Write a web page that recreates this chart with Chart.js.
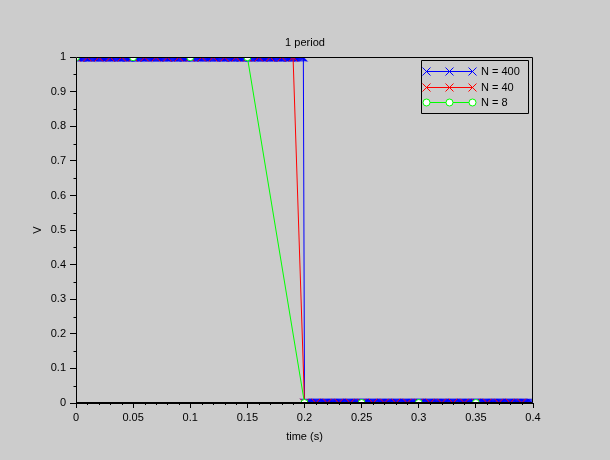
<!DOCTYPE html>
<html>
<head>
<meta charset="utf-8">
<script src="https://cdn.jsdelivr.net/npm/chart.js@4.4.1/dist/chart.umd.min.js"></script>
<style>
html,body{margin:0;padding:0;background:#cccccc;}
canvas{display:block;}
</style>
</head>
<body>
<canvas id="c" width="610" height="460"></canvas>
<script>
const chartTitle = '1 period';
const xAxisTitle = 'time (s)';
const yAxisTitle = 'V';
const seriesLabels = ['N = 400', 'N = 40', 'N = 8'];

const xTickValues = [0, 0.05, 0.1, 0.15, 0.2, 0.25, 0.3, 0.35, 0.4];
const xTickLabels = ['0', '0.05', '0.1', '0.15', '0.2', '0.25', '0.3', '0.35', '0.4'];
const yTickValues = [0, 0.1, 0.2, 0.3, 0.4, 0.5, 0.6, 0.7, 0.8, 0.9, 1];
const yTickLabels = ['0', '0.1', '0.2', '0.3', '0.4', '0.5', '0.6', '0.7', '0.8', '0.9', '1'];

const n400Time = [
0.000,0.001,0.002,0.003,0.004,0.005,0.006,0.007,0.008,0.009,0.010,0.011,0.012,0.013,0.014,0.015,0.016,0.017,0.018,0.019,
0.020,0.021,0.022,0.023,0.024,0.025,0.026,0.027,0.028,0.029,0.030,0.031,0.032,0.033,0.034,0.035,0.036,0.037,0.038,0.039,
0.040,0.041,0.042,0.043,0.044,0.045,0.046,0.047,0.048,0.049,0.050,0.051,0.052,0.053,0.054,0.055,0.056,0.057,0.058,0.059,
0.060,0.061,0.062,0.063,0.064,0.065,0.066,0.067,0.068,0.069,0.070,0.071,0.072,0.073,0.074,0.075,0.076,0.077,0.078,0.079,
0.080,0.081,0.082,0.083,0.084,0.085,0.086,0.087,0.088,0.089,0.090,0.091,0.092,0.093,0.094,0.095,0.096,0.097,0.098,0.099,
0.100,0.101,0.102,0.103,0.104,0.105,0.106,0.107,0.108,0.109,0.110,0.111,0.112,0.113,0.114,0.115,0.116,0.117,0.118,0.119,
0.120,0.121,0.122,0.123,0.124,0.125,0.126,0.127,0.128,0.129,0.130,0.131,0.132,0.133,0.134,0.135,0.136,0.137,0.138,0.139,
0.140,0.141,0.142,0.143,0.144,0.145,0.146,0.147,0.148,0.149,0.150,0.151,0.152,0.153,0.154,0.155,0.156,0.157,0.158,0.159,
0.160,0.161,0.162,0.163,0.164,0.165,0.166,0.167,0.168,0.169,0.170,0.171,0.172,0.173,0.174,0.175,0.176,0.177,0.178,0.179,
0.180,0.181,0.182,0.183,0.184,0.185,0.186,0.187,0.188,0.189,0.190,0.191,0.192,0.193,0.194,0.195,0.196,0.197,0.198,0.199,
0.200,0.201,0.202,0.203,0.204,0.205,0.206,0.207,0.208,0.209,0.210,0.211,0.212,0.213,0.214,0.215,0.216,0.217,0.218,0.219,
0.220,0.221,0.222,0.223,0.224,0.225,0.226,0.227,0.228,0.229,0.230,0.231,0.232,0.233,0.234,0.235,0.236,0.237,0.238,0.239,
0.240,0.241,0.242,0.243,0.244,0.245,0.246,0.247,0.248,0.249,0.250,0.251,0.252,0.253,0.254,0.255,0.256,0.257,0.258,0.259,
0.260,0.261,0.262,0.263,0.264,0.265,0.266,0.267,0.268,0.269,0.270,0.271,0.272,0.273,0.274,0.275,0.276,0.277,0.278,0.279,
0.280,0.281,0.282,0.283,0.284,0.285,0.286,0.287,0.288,0.289,0.290,0.291,0.292,0.293,0.294,0.295,0.296,0.297,0.298,0.299,
0.300,0.301,0.302,0.303,0.304,0.305,0.306,0.307,0.308,0.309,0.310,0.311,0.312,0.313,0.314,0.315,0.316,0.317,0.318,0.319,
0.320,0.321,0.322,0.323,0.324,0.325,0.326,0.327,0.328,0.329,0.330,0.331,0.332,0.333,0.334,0.335,0.336,0.337,0.338,0.339,
0.340,0.341,0.342,0.343,0.344,0.345,0.346,0.347,0.348,0.349,0.350,0.351,0.352,0.353,0.354,0.355,0.356,0.357,0.358,0.359,
0.360,0.361,0.362,0.363,0.364,0.365,0.366,0.367,0.368,0.369,0.370,0.371,0.372,0.373,0.374,0.375,0.376,0.377,0.378,0.379,
0.380,0.381,0.382,0.383,0.384,0.385,0.386,0.387,0.388,0.389,0.390,0.391,0.392,0.393,0.394,0.395,0.396,0.397,0.398,0.399
];
const n400Value = [
1,1,1,1,1,1,1,1,1,1,1,1,1,1,1,1,1,1,1,1,
1,1,1,1,1,1,1,1,1,1,1,1,1,1,1,1,1,1,1,1,
1,1,1,1,1,1,1,1,1,1,1,1,1,1,1,1,1,1,1,1,
1,1,1,1,1,1,1,1,1,1,1,1,1,1,1,1,1,1,1,1,
1,1,1,1,1,1,1,1,1,1,1,1,1,1,1,1,1,1,1,1,
1,1,1,1,1,1,1,1,1,1,1,1,1,1,1,1,1,1,1,1,
1,1,1,1,1,1,1,1,1,1,1,1,1,1,1,1,1,1,1,1,
1,1,1,1,1,1,1,1,1,1,1,1,1,1,1,1,1,1,1,1,
1,1,1,1,1,1,1,1,1,1,1,1,1,1,1,1,1,1,1,1,
1,1,1,1,1,1,1,1,1,1,1,1,1,1,1,1,1,1,1,1,
0,0,0,0,0,0,0,0,0,0,0,0,0,0,0,0,0,0,0,0,
0,0,0,0,0,0,0,0,0,0,0,0,0,0,0,0,0,0,0,0,
0,0,0,0,0,0,0,0,0,0,0,0,0,0,0,0,0,0,0,0,
0,0,0,0,0,0,0,0,0,0,0,0,0,0,0,0,0,0,0,0,
0,0,0,0,0,0,0,0,0,0,0,0,0,0,0,0,0,0,0,0,
0,0,0,0,0,0,0,0,0,0,0,0,0,0,0,0,0,0,0,0,
0,0,0,0,0,0,0,0,0,0,0,0,0,0,0,0,0,0,0,0,
0,0,0,0,0,0,0,0,0,0,0,0,0,0,0,0,0,0,0,0,
0,0,0,0,0,0,0,0,0,0,0,0,0,0,0,0,0,0,0,0,
0,0,0,0,0,0,0,0,0,0,0,0,0,0,0,0,0,0,0,0
];
const n40Time = [
0.00,0.01,0.02,0.03,0.04,0.05,0.06,0.07,0.08,0.09,0.10,0.11,0.12,0.13,0.14,0.15,0.16,0.17,0.18,0.19,
0.20,0.21,0.22,0.23,0.24,0.25,0.26,0.27,0.28,0.29,0.30,0.31,0.32,0.33,0.34,0.35,0.36,0.37,0.38,0.39
];
const n40Value = [
1,1,1,1,1,1,1,1,1,1,1,1,1,1,1,1,1,1,1,1,
0,0,0,0,0,0,0,0,0,0,0,0,0,0,0,0,0,0,0,0
];
const n8Time = [0.00, 0.05, 0.10, 0.15, 0.20, 0.25, 0.30, 0.35];
const n8Value = [1, 1, 1, 1, 0, 0, 0, 0];

const FONT = {family: '"Liberation Sans", Arial, Helvetica, sans-serif', size: 11, weight: 'normal'};
const FONT_CSS = '11px "Liberation Sans", Arial, Helvetica, sans-serif';
const BG = '#cccccc';
const COLORS = ['rgb(0,0,255)', 'rgb(255,0,0)', 'rgb(0,255,0)'];

function pts(xs, ys){ return xs.map((x, i) => ({x: x, y: ys[i]})); }

const bgPlugin = {
  id: 'bg',
  beforeDraw(chart){
    const c = chart.ctx;
    c.save();
    c.fillStyle = BG;
    c.fillRect(0, 0, chart.width, chart.height);
    c.restore();
  }
};

function legendMarker(c, style, x, y, r, color){
  c.save();
  c.lineWidth = 1;
  c.strokeStyle = color;
  c.fillStyle = '#ffffff';
  c.beginPath();
  if (style === 'crossRot'){
    const d = Math.round(r * Math.SQRT1_2);
    c.moveTo(x - d, y - d); c.lineTo(x + d, y + d);
    c.moveTo(x - d, y + d); c.lineTo(x + d, y - d);
    c.stroke();
  } else {
    c.arc(x, y, r, 0, Math.PI * 2);
    c.fill();
    c.stroke();
  }
  c.restore();
}

const framePlugin = {
  id: 'frame',
  afterDraw(chart){
    const c = chart.ctx;
    const a = chart.chartArea;
    const L = Math.round(a.left) + 0.5, R = Math.round(a.right) - 0.5;
    const T = Math.round(a.top) + 0.5, B = Math.round(a.bottom) - 0.5;
    c.save();
    c.strokeStyle = '#000000';
    c.lineWidth = 1;
    c.beginPath();
    c.rect(L, T, R - L, B - T);
    c.stroke();
    const xs = chart.scales.x, ys = chart.scales.y;
    c.beginPath();
    for (let i = 0; i < xTickValues.length - 1; i++){
      const v0 = xTickValues[i], v1 = xTickValues[i + 1];
      for (let k = 1; k < 5; k++){
        const px = Math.round(xs.getPixelForValue(v0 + (v1 - v0) * k / 5)) + 0.5;
        c.moveTo(px, B); c.lineTo(px, B + 2.5);
      }
    }
    for (let i = 0; i < yTickValues.length - 1; i++){
      const v0 = yTickValues[i], v1 = yTickValues[i + 1];
      const py = Math.round(ys.getPixelForValue((v0 + v1) / 2)) + 0.5;
      c.moveTo(L, py); c.lineTo(L - 3, py);
    }
    c.stroke();
    c.restore();

    // legend
    c.save();
    c.beginPath();
    c.rect(421.5, 60.5, 107, 53);
    c.lineWidth = 1;
    c.strokeStyle = '#000000';
    c.stroke();
    c.restore();
    const rowsY = [71.5, 87.5, 102.5];
    const styles = ['crossRot', 'crossRot', 'circle'];
    const radii = [5, 5, 3.5];
    const mxs = [426.5, 449.5, 472.5];
    for (let i = 0; i < 3; i++){
      const y = rowsY[i];
      for (let s = 0; s < mxs.length - 1; s++){
        c.save();
        c.lineWidth = 1;
        c.strokeStyle = COLORS[i];
        c.beginPath();
        c.moveTo(mxs[s], y); c.lineTo(mxs[s + 1], y);
        c.stroke();
        c.restore();
      }
      for (let s = 0; s < mxs.length; s++) legendMarker(c, styles[i], mxs[s], y, radii[i], COLORS[i]);
      c.save();
      c.fillStyle = '#000000';
      c.font = FONT_CSS;
      c.textBaseline = 'middle';
      c.textAlign = 'left';
      c.fillText(seriesLabels[i], 481, y + 0.5);
      c.restore();
    }
  }
};

new Chart(document.getElementById('c'), {
  type: 'line',
  data: {
    datasets: [
      {label: seriesLabels[0], data: pts(n400Time, n400Value), borderColor: COLORS[0], backgroundColor: COLORS[0],
       borderWidth: 1, pointStyle: 'crossRot', pointRadius: 6, pointHoverRadius: 6, pointBorderColor: COLORS[0],
       pointBackgroundColor: COLORS[0], pointBorderWidth: 1, tension: 0, order: 3, clip: 0, fill: false, yAxisID: 'y'},
      {label: seriesLabels[1], data: pts(n40Time, n40Value), borderColor: COLORS[1], backgroundColor: COLORS[1],
       borderWidth: 1, pointStyle: 'crossRot', pointRadius: 6, pointHoverRadius: 6, pointBorderColor: COLORS[1],
       pointBackgroundColor: COLORS[1], pointBorderWidth: 1, tension: 0, order: 2, clip: 0, fill: false, yAxisID: 'y'},
      {label: seriesLabels[2], data: pts(n8Time, n8Value), borderColor: COLORS[2], backgroundColor: '#ffffff',
       borderWidth: 1, pointStyle: 'circle', pointRadius: 3.5, pointHoverRadius: 3.5, pointBorderColor: COLORS[2],
       pointBackgroundColor: '#ffffff', pointBorderWidth: 1, tension: 0, order: 1, clip: 0, fill: false, yAxisID: 'y'}
    ]
  },
  options: {
    responsive: false,
    animation: false,
    devicePixelRatio: 1,
    events: [],
    layout: {padding: {left: 0, right: 0, top: 0, bottom: 0}},
    plugins: {
      legend: {display: false},
      tooltip: {enabled: false},
      title: {display: true, text: chartTitle, color: '#000', font: FONT, padding: {top: 36, bottom: 8}}
    },
    scales: {
      x: {
        type: 'linear', min: 0, max: 0.4,
        afterBuildTicks: s => { s.ticks = xTickValues.map(v => ({value: v})); },
        afterFit: s => { s.height = 57; },
        ticks: {callback: (v, i) => xTickLabels[i], color: '#000', font: FONT, padding: 3, maxRotation: 0, autoSkip: false},
        grid: {drawOnChartArea: false, drawTicks: true, tickLength: 5, color: '#000', tickColor: '#000'},
        border: {display: true, color: '#000', width: 1},
        title: {display: true, text: xAxisTitle, color: '#000', font: FONT, padding: {top: 0, bottom: 16.4}}
      },
      y: {
        type: 'linear', min: 0, max: 1, position: 'left',
        afterBuildTicks: s => { s.ticks = yTickValues.map(v => ({value: v})); },
        afterFit: s => { s.width = 76; },
        ticks: {callback: (v, i) => yTickLabels[i], color: '#000', font: FONT, padding: 4, autoSkip: false},
        grid: {drawOnChartArea: false, drawTicks: true, tickLength: 6, color: '#000', tickColor: '#000'},
        border: {display: true, color: '#000', width: 1},
        title: {display: true, text: yAxisTitle, color: '#000', font: FONT, padding: {top: 31.4, bottom: 0}}
      },
      yRight: {
        type: 'linear', min: 0, max: 1, position: 'right', display: true,
        afterFit: s => { s.width = 77; },
        ticks: {display: false},
        grid: {display: false, drawTicks: false},
        border: {display: false},
        title: {display: false}
      }
    }
  },
  plugins: [bgPlugin, framePlugin]
});
</script>
</body>
</html>
